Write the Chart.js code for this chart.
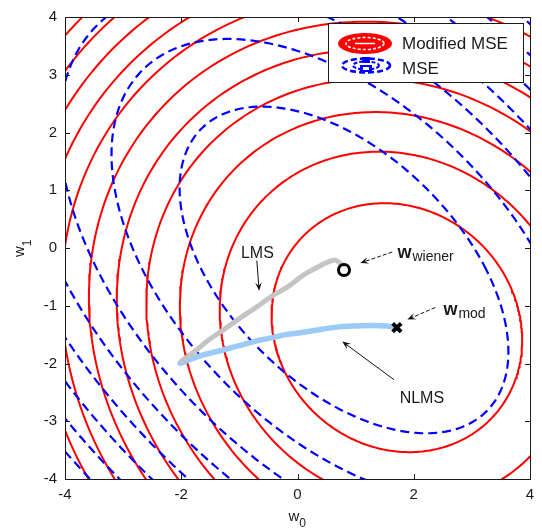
<!DOCTYPE html>
<html><head><meta charset="utf-8">
<script src="https://cdn.jsdelivr.net/npm/chart.js@4.4.0/dist/chart.umd.min.js"></script>
<style>html,body{margin:0;padding:0;background:#fff;}#wrap{width:542px;height:532px;}</style>
</head><body><div id="wrap"><canvas id="c" width="542" height="532"></canvas></div>
<script>
// ---- data ----
const xTicks = [-4, -2, 0, 2, 4];
const yTicks = [-4, -3, -2, -1, 0, 1, 2, 3, 4];
const wWiener = [0.8, -0.38];
const wMod = [1.71, -1.38];
// quadratic forms [r11, r12, r22] and contour levels
const mseQuad = [1, 0.5, 1];
const mseLevels = [6, 12, 18, 24, 30, 36, 42, 48, 54, 60];
const modQuad = [1, 0.1, 1];
const modLevels = [4.6, 9.2, 13.8, 18.4, 23, 27.8, 33, 37.8, 42.5, 47.3, 52.4, 57.6, 63];
// adaptive filter trajectories
const lmsW0 = [-2.0, -1.78, -1.55, -1.25, -0.94, -0.70, -0.45, -0.15, 0.10, 0.35, 0.51, 0.65, 0.75, 0.80];
const lmsW1 = [-1.96, -1.80, -1.61, -1.40, -1.18, -1.02, -0.84, -0.66, -0.47, -0.33, -0.25, -0.21, -0.29, -0.38];
const nlmsW0 = [-2.02, -1.80, -1.62, -1.30, -1.04, -0.75, -0.47, -0.20, 0.10, 0.40, 0.68, 0.95, 1.25, 1.54, 1.71];
const nlmsW1 = [-2.0, -1.91, -1.85, -1.77, -1.70, -1.62, -1.56, -1.50, -1.46, -1.41, -1.37, -1.35, -1.34, -1.35, -1.38];

const FONT = "'Liberation Sans', Arial, Helvetica, sans-serif";

function contour(center, q, level) {
  const pts = [];
  const N = 360;
  for (let i = 0; i <= N; i++) {
    const t = 2 * Math.PI * i / N;
    const c = Math.cos(t), s = Math.sin(t);
    const den = q[0] * c * c + 2 * q[1] * c * s + q[2] * s * s;
    const r = Math.sqrt(level / den);
    pts.push({x: center[0] + r * c, y: center[1] + r * s});
  }
  return pts;
}
function zipPts(a, b) { return a.map((v, i) => ({x: v, y: b[i]})); }

const datasets = [];
datasets.push({label: 'wiener', data: [{x: wWiener[0], y: wWiener[1]}], showLine: false,
  pointStyle: 'circle', pointRadius: 5.5, pointBorderWidth: 3, pointBorderColor: '#000',
  pointBackgroundColor: '#fff', order: 0});
datasets.push({label: 'mod', data: [{x: wMod[0], y: wMod[1]}], showLine: false,
  pointStyle: 'crossRot', pointRadius: 6, pointBorderWidth: 4, pointBorderColor: '#000', order: 0});
datasets.push({label: 'LMS', data: zipPts(lmsW0, lmsW1), showLine: true, borderColor: '#c4c4c4',
  borderWidth: 5, pointRadius: 0, tension: 0.3, borderCapStyle: 'round', borderJoinStyle: 'round', order: 1});
datasets.push({label: 'NLMS', data: zipPts(nlmsW0, nlmsW1), showLine: true, borderColor: '#9ccbf7',
  borderWidth: 5.5, pointRadius: 0, tension: 0.3, borderCapStyle: 'round', borderJoinStyle: 'round', order: 1});
mseLevels.forEach(L => datasets.push({label: 'MSE', data: contour(wWiener, mseQuad, L), showLine: true,
  borderColor: '#0000ff', borderWidth: 2.2, borderDash: [9, 5], pointRadius: 0, order: 3}));
modLevels.forEach(L => datasets.push({label: 'Modified MSE', data: contour(wMod, modQuad, L), showLine: true,
  borderColor: '#ff0000', borderWidth: 2, pointRadius: 0, order: 4}));

function arrow(ctx, x1, y1, x2, y2, dashed) {
  ctx.save();
  ctx.strokeStyle = '#111'; ctx.fillStyle = '#111'; ctx.lineWidth = 1;
  if (dashed) ctx.setLineDash([4, 2]);
  const a = Math.atan2(y2 - y1, x2 - x1);
  const L = 9;
  ctx.beginPath(); ctx.moveTo(x1, y1); ctx.lineTo(x2 - 4 * Math.cos(a), y2 - 4 * Math.sin(a)); ctx.stroke();
  ctx.setLineDash([]);
  ctx.beginPath();
  ctx.moveTo(x2, y2);
  ctx.lineTo(x2 - L * Math.cos(a - 0.38), y2 - L * Math.sin(a - 0.38));
  ctx.lineTo(x2 - 5 * Math.cos(a), y2 - 5 * Math.sin(a));
  ctx.lineTo(x2 - L * Math.cos(a + 0.38), y2 - L * Math.sin(a + 0.38));
  ctx.closePath(); ctx.fill();
  ctx.restore();
}

const decor = {
  id: 'decor',
  afterDatasetsDraw(chart) {
    const ctx = chart.ctx, xs = chart.scales.x, ys = chart.scales.y, a = chart.chartArea;
    const X = v => xs.getPixelForValue(v), Y = v => ys.getPixelForValue(v);
    ctx.save();
    // axes box and inward ticks
    ctx.strokeStyle = '#1a1a1a'; ctx.lineWidth = 1;
    ctx.strokeRect(Math.round(a.left) + 0.5, Math.round(a.top) + 0.5, Math.round(a.right - a.left), Math.round(a.bottom - a.top));
    ctx.beginPath();
    xTicks.forEach(t => { const px = Math.round(X(t)) + 0.5;
      ctx.moveTo(px, a.bottom); ctx.lineTo(px, a.bottom - 5); ctx.moveTo(px, a.top); ctx.lineTo(px, a.top + 5); });
    yTicks.forEach(t => { const py = Math.round(Y(t)) + 0.5;
      ctx.moveTo(a.left, py); ctx.lineTo(a.left + 5, py); ctx.moveTo(a.right, py); ctx.lineTo(a.right - 5, py); });
    ctx.stroke();
    // annotations
    ctx.fillStyle = '#1a1a1a';
    ctx.textBaseline = 'alphabetic';
    ctx.font = '16px ' + FONT; ctx.textAlign = 'center';
    ctx.fillText('LMS', X(-0.69), Y(-0.17));
    arrow(ctx, X(-0.70), Y(-0.22), X(-0.66), Y(-0.74), false);
    ctx.fillText('NLMS', X(2.14), Y(-2.68));
    arrow(ctx, X(1.66), Y(-2.28), X(0.77), Y(-1.62), false);
    ctx.textAlign = 'left';
    ctx.font = 'bold 18px ' + FONT;
    ctx.fillText('w', X(1.72), Y(-0.17));
    const ww = ctx.measureText('w').width;
    ctx.font = '14px ' + FONT;
    ctx.fillText('wiener', X(1.72) + ww + 1, Y(-0.17) + 3.5);
    arrow(ctx, X(1.63), Y(-0.07), X(1.08), Y(-0.26), true);
    ctx.font = 'bold 18px ' + FONT;
    ctx.fillText('w', X(2.51), Y(-1.16));
    ctx.font = '14px ' + FONT;
    ctx.fillText('mod', X(2.51) + ww + 1, Y(-1.16) + 3.5);
    arrow(ctx, X(2.37), Y(-1.03), X(1.89), Y(-1.24), true);
    // axis titles
    ctx.font = '15px ' + FONT; ctx.textAlign = 'left';
    const wx = ctx.measureText('w').width;
    const cx = (a.left + a.right) / 2;
    ctx.fillText('w', cx - 9, 521);
    ctx.font = '12px ' + FONT; ctx.fillText('0', cx - 9 + wx, 527);
    ctx.save();
    ctx.translate(24, (a.top + a.bottom) / 2 + 9);
    ctx.rotate(-Math.PI / 2);
    ctx.font = '15px ' + FONT; ctx.fillText('w', 0, 0);
    ctx.font = '12px ' + FONT; ctx.fillText('1', wx, 7);
    ctx.restore();
    // legend
    ctx.fillStyle = '#fff'; ctx.fillRect(328.5, 23.5, 195, 59);
    ctx.strokeStyle = '#1a1a1a'; ctx.lineWidth = 1; ctx.strokeRect(328.5, 23.5, 195, 59);
    // red icon
    ctx.fillStyle = '#ff0000';
    ctx.beginPath(); ctx.ellipse(365, 43.5, 27, 10.5, 0, 0, 2 * Math.PI); ctx.fill();
    ctx.strokeStyle = '#fff'; ctx.lineWidth = 1.6; ctx.setLineDash([3, 2]);
    ctx.beginPath(); ctx.ellipse(365, 43.5, 19, 6, 0, 0, 2 * Math.PI); ctx.stroke();
    ctx.setLineDash([]);
    ctx.strokeStyle = '#fff'; ctx.lineWidth = 1.5;
    ctx.beginPath(); ctx.moveTo(355, 43.5); ctx.lineTo(375, 43.5); ctx.stroke();
    // blue icon
    ctx.strokeStyle = '#0000ff'; ctx.lineWidth = 2.5; ctx.setLineDash([6, 3]);
    ctx.beginPath(); ctx.ellipse(366, 65.5, 24, 7, 0, 0, 2 * Math.PI); ctx.stroke();
    ctx.lineWidth = 2; ctx.setLineDash([4, 2]);
    ctx.beginPath(); ctx.ellipse(366, 65.5, 13, 4, 0, 0, 2 * Math.PI); ctx.stroke();
    ctx.setLineDash([]);
    ctx.fillStyle = '#0000ff';
    ctx.fillRect(362, 57, 8, 6); ctx.fillRect(360, 65, 12, 7);
    ctx.fillStyle = '#fff'; ctx.fillRect(363, 67, 6, 3);
    ctx.fillStyle = '#1a1a1a'; ctx.font = '17px ' + FONT; ctx.textAlign = 'left';
    ctx.fillText('Modified MSE', 402, 48.5);
    ctx.fillText('MSE', 402, 74);
    ctx.restore();
  }
};

new Chart(document.getElementById('c'), {
  type: 'scatter',
  data: {datasets},
  options: {
    responsive: false, animation: false, devicePixelRatio: 1,
    layout: {padding: {left: 0, right: 12, top: 15, bottom: 0}},
    plugins: {legend: {display: false}, tooltip: {enabled: false}},
    elements: {line: {fill: false}},
    scales: {
      x: {type: 'linear', min: -4, max: 4,
        afterBuildTicks: s => { s.ticks = xTicks.map(v => ({value: v})); },
        afterFit: s => { s.height = 53; },
        grid: {display: false, drawTicks: false}, border: {display: false},
        ticks: {padding: 7, color: '#1a1a1a', font: {family: FONT, size: 15}, maxRotation: 0}},
      y: {type: 'linear', min: -4, max: 4,
        afterBuildTicks: s => { s.ticks = yTicks.map(v => ({value: v})); },
        afterFit: s => { s.width = 65; },
        grid: {display: false, drawTicks: false}, border: {display: false},
        ticks: {padding: 8, color: '#1a1a1a', font: {family: FONT, size: 15}}}
    }
  },
  plugins: [decor]
});
</script></body></html>
